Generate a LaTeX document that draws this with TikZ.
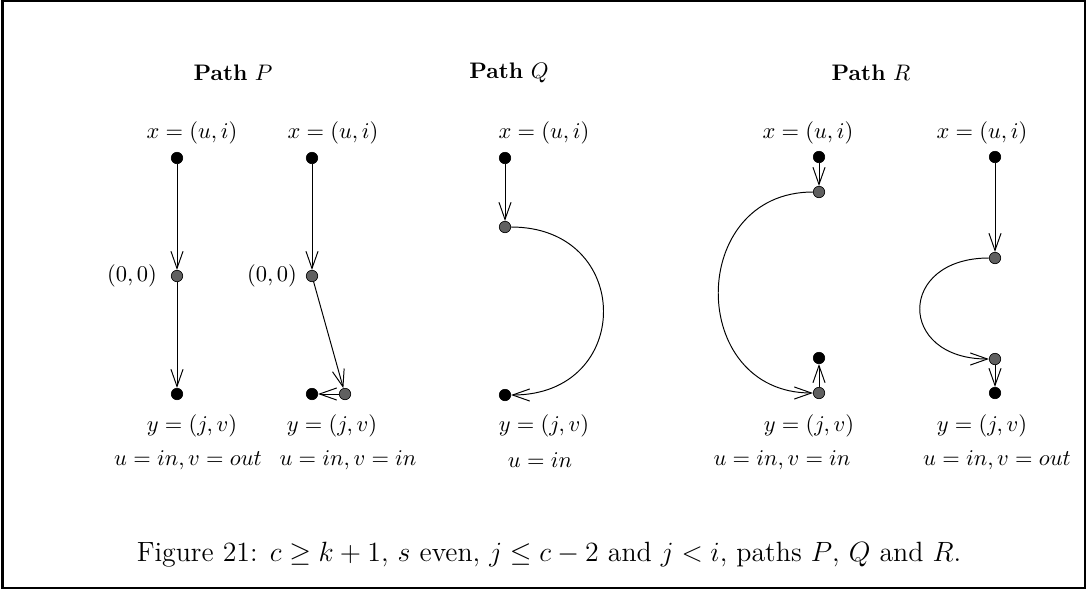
\RequirePackage{fix-cm}
\documentclass[tikz,border=0pt]{standalone}
\usetikzlibrary{arrows.meta}
\definecolor{dotgray}{HTML}{606060}
\begin{document}
\begin{tikzpicture}[x=0.463pt,y=-0.463pt,
  font=\fontsize{10.4}{12.5}\selectfont,
  bdot/.style={circle,fill=black,draw=black,line width=0.3pt,minimum size=5.3pt,inner sep=0pt},
  gdot/.style={circle,fill=dotgray,draw=black,line width=0.3pt,minimum size=5.3pt,inner sep=0pt},
  lab/.style={inner sep=0pt},
  arr/.style={-{Straight Barb[length=8pt,width=5.6pt]},line width=0.45pt}]
\useasboundingbox (0,0) rectangle (1086,591);
\draw[line width=0.93pt] (2.5,1.2) rectangle (1085,587.5);
% titles
\node[lab] (tP) at (233,73) {\textbf{Path} $P$};
\node[lab] (tQ) at (509,73) {\textbf{Path} $Q$};
\node[lab] (tR) at (871,73) {\textbf{Path} $R$};
% Path P, column 1
\node[lab] (lx1) at (192,133) {$x=(u,i)$};
\node[bdot] (a1) at (177,158) {};
\node[gdot] (a2) at (177,276) {};
\node[lab] (l01) at (132,276) {$(0,0)$};
\node[bdot] (a3) at (177,394) {};
\node[lab] (ly1) at (192,426) {$y=(j,v)$};
\node[lab] (lc1) at (188,460) {$u=in, v=out$};
\draw[arr] (a1) -- (a2);
\draw[arr] (a2) -- (a3);
% Path P, column 2
\node[lab] (lx2) at (333,133) {$x=(u,i)$};
\node[bdot] (b1) at (312,158) {};
\node[gdot] (b2) at (312,276) {};
\node[lab] (l02) at (272,276) {$(0,0)$};
\node[gdot] (b3) at (345,394) {};
\node[bdot] (b4) at (312,394) {};
\node[lab] (ly2) at (332,426) {$y=(j,v)$};
\node[lab] (lc2) at (348,460) {$u=in, v=in$};
\draw[arr] (b1) -- (b2);
\draw[arr] (b2) -- (b3);
\draw[arr] (b3) -- (b4);
% Path Q
\node[lab] (lx3) at (544,133) {$x=(u,i)$};
\node[bdot] (c1) at (505,158) {};
\node[gdot] (c2) at (505,227) {};
\node[bdot] (c3) at (505,395) {};
\node[lab] (ly3) at (544,426) {$y=(j,v)$};
\node[lab] (lc3) at (540,460) {$u=in$};
\draw[arr] (c1) -- (c2);
\draw[arr] (c2) .. controls +(129,0) and +(129,0) .. (c3);
% Path R, column 1
\node[lab] (lx4) at (808,133) {$x=(u,i)$};
\node[bdot] (d1) at (819,157) {};
\node[gdot] (d2) at (819,192) {};
\node[bdot] (d3) at (819,358) {};
\node[gdot] (d4) at (819,393) {};
\node[lab] (ly4) at (809,426) {$y=(j,v)$};
\node[lab] (lc4) at (782,460) {$u=in, v=in$};
\draw[arr] (d1) -- (d2);
\draw[arr] (d2) .. controls +(-132,0) and +(-132,0) .. (d4);
\draw[arr] (d4) -- (d3);
% Path R, column 2
\node[lab] (lx5) at (982,133) {$x=(u,i)$};
\node[bdot] (e1) at (995,157) {};
\node[gdot] (e2) at (995,258) {};
\node[gdot] (e3) at (995,359) {};
\node[bdot] (e4) at (995,393) {};
\node[lab] (ly5) at (982,426) {$y=(j,v)$};
\node[lab] (lc5) at (997,460) {$u=in, v=out$};
\draw[arr] (e1) -- (e2);
\draw[arr] (e2) .. controls +(-98,0) and +(-98,0) .. (e3);
\draw[arr] (e3) -- (e4);
% caption
\node[lab,font=\fontsize{12.9}{16}\selectfont] (cap) at (549,555)
  {Figure 21: $c\geq k+1$, $s$ even, $j\leq c-2$ and $j<i$, paths $P$, $Q$ and $R$.};
\end{tikzpicture}
\end{document}
